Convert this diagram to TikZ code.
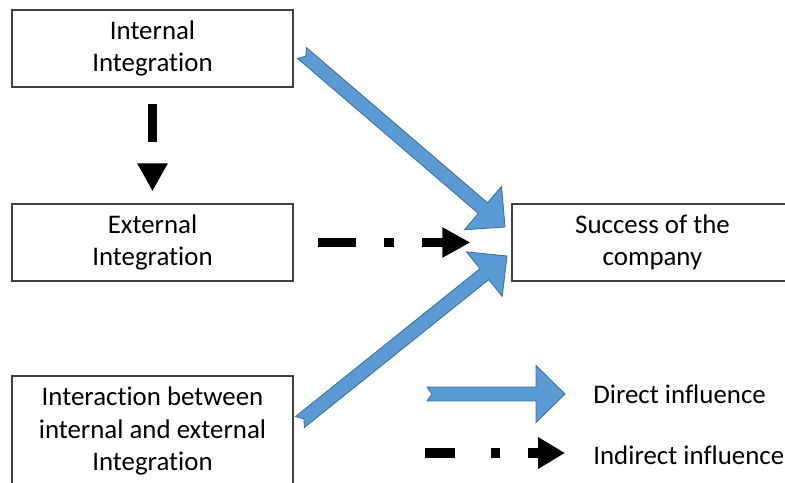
\documentclass[tikz,border=0pt]{standalone}
\usepackage{fontspec}
\setmainfont{Carlito}[Ligatures={NoCommon,NoRare,NoDiscretionary}]
\usetikzlibrary{calc,arrows.meta}

\definecolor{arrowfill}{HTML}{5B9BD5}
\definecolor{arrowline}{HTML}{41719C}
\definecolor{boxline}{HTML}{404040}

\tikzset{
  box/.style={draw=boxline,line width=0.75pt,minimum width=5.62cm,minimum height=1.54cm,
    align=center,font=\fontsize{15.3}{18.3}\selectfont,
    execute at begin node={\vspace*{0.1cm}}},
  legendtext/.style={anchor=west,inner sep=0pt,font=\fontsize{15.3}{18.3}\selectfont},
  direct/.style={fill=arrowfill,draw=arrowline,line width=0.5pt,line join=miter},
  indirect/.style={line width=0.19cm,dash pattern=on 0.76cm off 0.56cm on 0.2cm off 0.56cm,
    -{Triangle[length=0.56cm,width=0.57cm]}}
}

% block arrow with notched tail, from #1 to #2
\newcommand{\blockarrow}[2]{%
  \coordinate (h) at ($(#2)!0.58cm!(#1)$);
  \filldraw[direct] ($(#1)!0.1cm!(#2)$) -- ($(#1)!0.14cm!90:(#2)$)
    -- ($(h)!0.14cm!90:(#2)$) -- ($(h)!0.57cm!90:(#2)$) -- (#2)
    -- ($(h)!0.57cm!-90:(#2)$) -- ($(h)!0.14cm!-90:(#2)$)
    -- ($(#1)!0.14cm!-90:(#2)$) -- cycle;
}

\begin{document}
\begin{tikzpicture}[x=0.02cm,y=-0.02cm]
  \useasboundingbox (0,0) rectangle (785,483);
  \clip (0,0) rectangle (785,483);

  \node[box] (internal) at (152.5,48.5) {Internal\\Integration};
  \node[box] (external) at (152.5,242.5) {External\\Integration};
  \node[box,minimum height=2.2cm] (interaction) at (152.5,431) {Interaction between\\internal and external\\Integration};
  \node[box] (success) at (652.5,242.5) {Success of the\\company};

  % direct influence
  \coordinate (d1) at (302,53);
  \coordinate (d2) at (505,227);
  \coordinate (d3) at (300,422);
  \coordinate (d4) at (507,256);
  \blockarrow{d1}{d2}
  \blockarrow{d3}{d4}

  % indirect influence
  \draw[indirect] ([yshift=-0.32cm]internal.south) -- ([yshift=0.24cm]external.north);
  \draw[indirect] ([xshift=0.48cm]external.east) -- ([xshift=-0.82cm]success.west);

  % legend
  \coordinate (l1) at (427,394);
  \coordinate (l2) at (565,394);
  \blockarrow{l1}{l2}
  \node[legendtext] (ldirect) at (593,394) {Direct influence};
  \coordinate (l3) at (425,453);
  \coordinate (l4) at (565,453);
  \draw[indirect,dash pattern=on 0.6cm off 0.72cm on 0.18cm off 0.56cm,
    -{Triangle[length=0.54cm,width=0.6cm]}] (l3) -- (l4);
  \node[legendtext] (lindirect) at (593,455) {Indirect influence};
\end{tikzpicture}
\end{document}
